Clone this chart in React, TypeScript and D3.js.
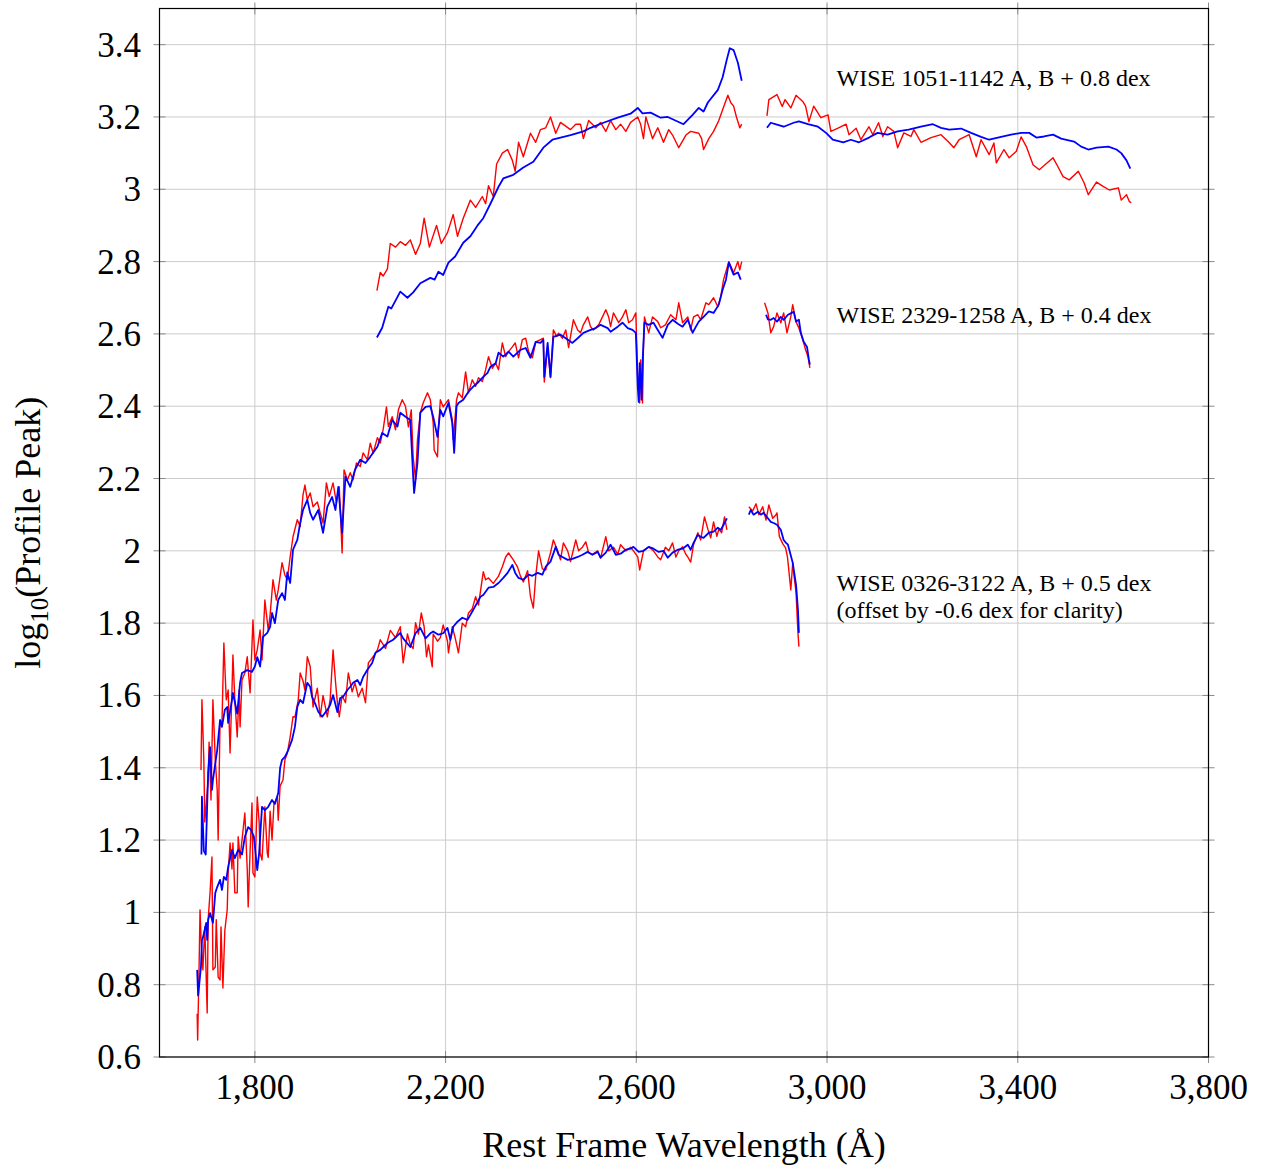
import * as d3 from 'd3';

type Pt = [number, number];

// WISE 1051-1142 A (red) / B (blue), shifted by +0.8 dex
const w1051RedBlue1: Pt[] = [
  [2056, 2.72], [2063, 2.77], [2069, 2.76], [2078, 2.78], [2084, 2.85], [2095, 2.84], [2105, 2.855], [2116, 2.845],
  [2126, 2.86], [2137, 2.82], [2147, 2.85], [2155, 2.92], [2166, 2.84], [2181, 2.9], [2191, 2.85], [2204, 2.88],
  [2216, 2.93], [2225, 2.87], [2237, 2.92], [2252, 2.97], [2263, 2.95], [2277, 2.98], [2284, 2.96], [2290, 3.01],
  [2300, 2.98], [2307, 3.07], [2319, 3.1], [2330, 3.11], [2340, 3.08], [2346, 3.05], [2353, 3.13], [2363, 3.09],
  [2378, 3.155], [2389, 3.13], [2399, 3.165], [2410, 3.17], [2420, 3.2], [2431, 3.155], [2441, 3.185], [2462, 3.165],
  [2473, 3.18], [2483, 3.18], [2489, 3.14], [2500, 3.19], [2515, 3.17], [2525, 3.185], [2536, 3.16], [2546, 3.19],
  [2557, 3.165], [2567, 3.18], [2578, 3.16], [2588, 3.185], [2603, 3.2], [2609, 3.18], [2615, 3.14], [2620, 3.2],
  [2634, 3.14], [2645, 3.17], [2657, 3.13], [2668, 3.165], [2676, 3.15], [2689, 3.115], [2704, 3.15], [2714, 3.16],
  [2731, 3.155], [2737, 3.14], [2741, 3.11], [2752, 3.14], [2762, 3.16], [2773, 3.19], [2781, 3.22], [2792, 3.26],
  [2798, 3.24], [2804, 3.23], [2810, 3.2], [2817, 3.17], [2821, 3.18],
];
const w1051RedBlue2: Pt[] = [
  [2874, 3.203], [2878, 3.248], [2895, 3.262], [2906, 3.229], [2912, 3.248], [2924, 3.225], [2935, 3.26], [2949, 3.243],
  [2955, 3.23], [2962, 3.187], [2972, 3.23], [2987, 3.198], [3002, 3.206], [3008, 3.16], [3023, 3.169], [3040, 3.18],
  [3046, 3.151], [3061, 3.169], [3071, 3.137], [3088, 3.173], [3096, 3.151], [3108, 3.184], [3117, 3.146], [3127, 3.173],
  [3140, 3.16], [3148, 3.115], [3161, 3.156], [3176, 3.146], [3182, 3.165], [3197, 3.13], [3218, 3.143], [3239, 3.151],
  [3254, 3.132], [3266, 3.115], [3277, 3.137], [3298, 3.151], [3313, 3.09], [3323, 3.137], [3340, 3.096], [3350, 3.128],
  [3355, 3.073], [3371, 3.11], [3382, 3.087], [3397, 3.105], [3407, 3.145], [3418, 3.118], [3432, 3.068], [3445, 3.054],
  [3474, 3.087], [3484, 3.063], [3495, 3.035], [3508, 3.026], [3527, 3.05], [3539, 3.018], [3548, 2.985], [3565, 3.02],
  [3579, 3.008], [3592, 2.998], [3611, 3.004], [3617, 2.97], [3628, 2.985], [3634, 2.966], [3638, 2.963],
];
const w1051Blue1: Pt[] = [
  [2056, 2.59], [2067, 2.617], [2080, 2.675], [2086, 2.67], [2105, 2.717], [2120, 2.7], [2132, 2.715], [2147, 2.74],
  [2168, 2.755], [2177, 2.75], [2185, 2.772], [2195, 2.763], [2206, 2.797], [2220, 2.814], [2237, 2.852], [2252, 2.87],
  [2267, 2.9], [2279, 2.92], [2294, 2.96], [2311, 3.007], [2321, 3.03], [2342, 3.04], [2363, 3.06], [2384, 3.076],
  [2405, 3.115], [2424, 3.137], [2441, 3.143], [2462, 3.15], [2489, 3.16], [2504, 3.17], [2531, 3.184], [2561, 3.198],
  [2588, 3.209], [2603, 3.225], [2613, 3.21], [2630, 3.212], [2651, 3.198], [2666, 3.2], [2699, 3.18], [2718, 3.206],
  [2731, 3.225], [2741, 3.215], [2750, 3.24], [2771, 3.275], [2781, 3.31], [2790, 3.36], [2796, 3.39], [2804, 3.385],
  [2813, 3.35], [2821, 3.3],
];
const w1051Blue2: Pt[] = [
  [2874, 3.17], [2882, 3.184], [2895, 3.179], [2909, 3.173], [2930, 3.184], [2941, 3.188], [2960, 3.18], [2981, 3.173],
  [2998, 3.156], [3012, 3.137], [3034, 3.13], [3050, 3.137], [3067, 3.13], [3088, 3.143], [3106, 3.156], [3127, 3.151],
  [3148, 3.16], [3171, 3.165], [3197, 3.173], [3222, 3.18], [3239, 3.17], [3256, 3.165], [3281, 3.168], [3302, 3.156],
  [3323, 3.145], [3340, 3.137], [3365, 3.145], [3386, 3.151], [3407, 3.156], [3424, 3.156], [3439, 3.143], [3455, 3.146],
  [3474, 3.151], [3491, 3.14], [3518, 3.132], [3533, 3.118], [3548, 3.11], [3565, 3.115], [3590, 3.118], [3607, 3.11],
  [3617, 3.1], [3628, 3.08], [3636, 3.057],
];

// WISE 2329-1258 A (red) / B (blue), shifted by +0.4 dex
const w2329Red1: Pt[] = [
  [1687, 1.394], [1689, 1.588], [1693, 1.42], [1695, 1.25], [1702, 1.366], [1704, 1.471], [1708, 1.311], [1712, 1.588],
  [1717, 1.422], [1721, 1.339], [1723, 1.2], [1727, 1.532], [1731, 1.524], [1735, 1.745], [1740, 1.588], [1744, 1.615],
  [1748, 1.441], [1752, 1.615], [1754, 1.712], [1758, 1.588], [1763, 1.485], [1767, 1.615], [1769, 1.513], [1773, 1.643],
  [1779, 1.662], [1784, 1.707], [1790, 1.607], [1796, 1.809], [1800, 1.698], [1805, 1.726], [1811, 1.781], [1815, 1.698],
  [1821, 1.864], [1828, 1.781], [1832, 1.823], [1838, 1.92], [1845, 1.864], [1849, 1.892], [1857, 1.967], [1863, 1.933],
  [1868, 1.92], [1874, 1.983], [1880, 2.039], [1889, 2.086], [1895, 2.067], [1901, 2.155], [1905, 2.182], [1910, 2.141],
  [1916, 2.16], [1922, 2.122], [1931, 2.135], [1937, 2.105], [1943, 2.077], [1950, 2.188], [1956, 2.15], [1964, 2.188],
  [1971, 2.133], [1977, 2.177], [1983, 1.994], [1987, 2.224], [1994, 2.196], [2000, 2.216], [2006, 2.196], [2013, 2.243],
  [2021, 2.233], [2027, 2.271], [2036, 2.252], [2042, 2.298], [2048, 2.27], [2057, 2.313], [2063, 2.298], [2069, 2.335],
  [2076, 2.398], [2080, 2.344], [2088, 2.371], [2095, 2.335], [2101, 2.39], [2109, 2.418], [2116, 2.399], [2122, 2.343],
  [2128, 2.39], [2132, 2.26], [2137, 2.196], [2141, 2.307], [2147, 2.382], [2153, 2.409], [2162, 2.437], [2168, 2.418],
  [2174, 2.354], [2176, 2.279], [2183, 2.26], [2185, 2.335], [2189, 2.418], [2195, 2.398], [2206, 2.418], [2214, 2.362],
  [2216, 2.307], [2223, 2.418], [2227, 2.437], [2235, 2.423], [2242, 2.495], [2248, 2.437], [2256, 2.473], [2263, 2.455],
  [2269, 2.479], [2277, 2.468], [2284, 2.501], [2290, 2.537], [2298, 2.505], [2305, 2.519], [2311, 2.501], [2319, 2.575],
  [2326, 2.537], [2332, 2.551], [2340, 2.564], [2346, 2.575], [2353, 2.534], [2361, 2.584], [2368, 2.588], [2374, 2.551],
  [2382, 2.534], [2389, 2.578], [2399, 2.584], [2405, 2.588], [2407, 2.467], [2414, 2.565], [2420, 2.479], [2426, 2.611],
  [2433, 2.593], [2437, 2.602], [2445, 2.588], [2452, 2.611], [2458, 2.562], [2468, 2.639], [2477, 2.611], [2483, 2.603],
  [2489, 2.625], [2498, 2.647], [2504, 2.62], [2510, 2.611], [2521, 2.625], [2529, 2.647], [2536, 2.667], [2542, 2.647],
  [2546, 2.62], [2552, 2.658], [2563, 2.631], [2571, 2.647], [2578, 2.667], [2584, 2.631], [2592, 2.639], [2599, 2.658],
  [2603, 2.473], [2607, 2.409], [2609, 2.528], [2613, 2.409], [2615, 2.564], [2617, 2.647], [2626, 2.603], [2634, 2.647],
  [2645, 2.634], [2651, 2.617], [2661, 2.625], [2672, 2.653], [2683, 2.639], [2689, 2.686], [2697, 2.631], [2708, 2.647],
  [2714, 2.611], [2720, 2.647], [2729, 2.653], [2735, 2.639], [2746, 2.686], [2752, 2.681], [2762, 2.7], [2771, 2.675],
  [2777, 2.703], [2783, 2.75], [2794, 2.8], [2804, 2.769], [2813, 2.8], [2817, 2.777], [2821, 2.8],
];
const w2329Red2: Pt[] = [
  [2869, 2.686], [2876, 2.658], [2882, 2.603], [2888, 2.62], [2895, 2.658], [2903, 2.631], [2909, 2.658], [2916, 2.603],
  [2924, 2.648], [2928, 2.681], [2935, 2.634], [2941, 2.616], [2949, 2.584], [2955, 2.556], [2960, 2.537], [2964, 2.506],
];
const w2329Blue1: Pt[] = [
  [1688, 1.16], [1689, 1.32], [1693, 1.17], [1697, 1.16], [1702, 1.386], [1706, 1.457], [1710, 1.339], [1712, 1.366],
  [1721, 1.449], [1723, 1.477], [1727, 1.532], [1731, 1.513], [1737, 1.56], [1742, 1.568], [1744, 1.524], [1752, 1.588],
  [1754, 1.607], [1763, 1.55], [1769, 1.635], [1773, 1.662], [1784, 1.67], [1794, 1.665], [1800, 1.68], [1805, 1.706],
  [1811, 1.68], [1817, 1.762], [1826, 1.773], [1832, 1.79], [1836, 1.828], [1842, 1.8], [1849, 1.864], [1857, 1.883],
  [1863, 1.864], [1868, 1.94], [1874, 1.911], [1880, 2.003], [1889, 2.03], [1895, 2.077], [1901, 2.113], [1910, 2.141],
  [1916, 2.105], [1922, 2.086], [1933, 2.113], [1943, 2.05], [1952, 2.122], [1962, 2.149], [1969, 2.113], [1975, 2.177],
  [1983, 2.05], [1990, 2.205], [2000, 2.177], [2010, 2.224], [2021, 2.252], [2032, 2.243], [2042, 2.26], [2057, 2.288],
  [2067, 2.326], [2078, 2.316], [2088, 2.362], [2099, 2.344], [2105, 2.382], [2116, 2.371], [2126, 2.362], [2132, 2.205],
  [2134, 2.16], [2141, 2.243], [2147, 2.382], [2158, 2.398], [2168, 2.4], [2174, 2.371], [2183, 2.315], [2189, 2.39],
  [2195, 2.372], [2206, 2.409], [2214, 2.354], [2218, 2.271], [2223, 2.4], [2227, 2.409], [2237, 2.418], [2248, 2.44],
  [2258, 2.454], [2269, 2.467], [2279, 2.481], [2288, 2.492], [2294, 2.509], [2305, 2.519], [2311, 2.548], [2321, 2.537],
  [2332, 2.551], [2342, 2.537], [2357, 2.556], [2368, 2.561], [2378, 2.534], [2389, 2.578], [2399, 2.575], [2405, 2.584],
  [2407, 2.481], [2414, 2.575], [2420, 2.481], [2426, 2.592], [2441, 2.598], [2452, 2.588], [2466, 2.575], [2477, 2.588],
  [2489, 2.603], [2504, 2.611], [2515, 2.616], [2525, 2.625], [2540, 2.616], [2546, 2.606], [2561, 2.62], [2571, 2.631],
  [2582, 2.616], [2592, 2.611], [2599, 2.603], [2603, 2.454], [2605, 2.412], [2607, 2.519], [2611, 2.418], [2613, 2.52],
  [2617, 2.631], [2626, 2.625], [2636, 2.631], [2645, 2.611], [2655, 2.589], [2666, 2.625], [2676, 2.639], [2687, 2.628],
  [2697, 2.62], [2708, 2.639], [2718, 2.603], [2725, 2.62], [2731, 2.634], [2741, 2.647], [2752, 2.662], [2762, 2.658],
  [2773, 2.681], [2781, 2.722], [2788, 2.75], [2794, 2.797], [2804, 2.764], [2813, 2.77], [2819, 2.75],
];
const w2329Blue2: Pt[] = [
  [2872, 2.653], [2876, 2.64], [2882, 2.639], [2888, 2.644], [2895, 2.634], [2903, 2.647], [2909, 2.639], [2918, 2.653],
  [2930, 2.661], [2935, 2.634], [2941, 2.639], [2945, 2.603], [2951, 2.578], [2958, 2.564], [2962, 2.528], [2964, 2.515],
];

// WISE 0326-3122 A (red) / B (blue), shifted by +0.5 dex and -0.6 dex
const w0326Red1: Pt[] = [
  [1679, 0.72], [1680, 0.647], [1683, 0.849], [1685, 1.007], [1687, 0.93], [1691, 0.841], [1695, 0.96], [1700, 0.722],
  [1702, 0.98], [1706, 1.054], [1710, 1.153], [1712, 0.841], [1717, 0.849], [1719, 0.98], [1723, 0.821], [1727, 0.813],
  [1729, 0.96], [1733, 0.791], [1737, 0.95], [1742, 1.007], [1744, 1.109], [1748, 1.192], [1752, 1.12], [1754, 1.192],
  [1758, 1.054], [1763, 1.054], [1765, 1.209], [1769, 1.15], [1773, 1.2], [1779, 1.275], [1784, 1.12], [1786, 1.015],
  [1790, 1.17], [1794, 1.303], [1796, 1.109], [1800, 1.098], [1805, 1.319], [1809, 1.25], [1811, 1.164], [1815, 1.145],
  [1821, 1.292], [1826, 1.164], [1828, 1.152], [1832, 1.28], [1836, 1.2], [1840, 1.3], [1847, 1.319], [1849, 1.255],
  [1853, 1.35], [1859, 1.366], [1863, 1.422], [1868, 1.44], [1874, 1.485], [1880, 1.541], [1884, 1.54], [1891, 1.588],
  [1895, 1.662], [1901, 1.64], [1905, 1.615], [1910, 1.707], [1916, 1.68], [1922, 1.568], [1931, 1.62], [1937, 1.541],
  [1943, 1.6], [1952, 1.541], [1958, 1.59], [1964, 1.726], [1969, 1.64], [1973, 1.58], [1977, 1.541], [1983, 1.6],
  [1990, 1.58], [1996, 1.662], [2004, 1.61], [2010, 1.635], [2017, 1.596], [2025, 1.62], [2032, 1.58], [2038, 1.69],
  [2048, 1.707], [2057, 1.726], [2063, 1.754], [2074, 1.73], [2084, 1.78], [2095, 1.76], [2105, 1.79], [2111, 1.69],
  [2120, 1.77], [2126, 1.74], [2132, 1.73], [2137, 1.801], [2143, 1.77], [2149, 1.828], [2155, 1.79], [2160, 1.707],
  [2164, 1.74], [2172, 1.679], [2174, 1.77], [2183, 1.75], [2189, 1.76], [2195, 1.795], [2204, 1.75], [2206, 1.718],
  [2214, 1.79], [2220, 1.76], [2227, 1.718], [2235, 1.8], [2242, 1.79], [2248, 1.828], [2256, 1.84], [2263, 1.873],
  [2269, 1.85], [2279, 1.942], [2284, 1.92], [2290, 1.925], [2300, 1.91], [2311, 1.93], [2319, 1.956], [2326, 1.983],
  [2332, 1.994], [2342, 1.975], [2351, 1.955], [2357, 1.93], [2363, 1.914], [2372, 1.945], [2378, 1.873], [2384, 1.842],
  [2389, 1.93], [2395, 2.0], [2403, 1.95], [2410, 1.947], [2420, 1.994], [2426, 2.03], [2435, 2.0], [2441, 1.975],
  [2447, 2.022], [2456, 2.0], [2462, 1.97], [2473, 2.03], [2479, 2.0], [2487, 2.01], [2494, 2.025], [2500, 1.995],
  [2508, 1.99], [2519, 2.0], [2525, 1.98], [2536, 2.039], [2542, 2.0], [2552, 2.01], [2561, 1.99], [2567, 2.017],
  [2578, 2.0], [2588, 2.01], [2594, 2.0], [2603, 1.983], [2607, 1.947], [2615, 2.0], [2626, 2.011], [2636, 2.0],
  [2645, 1.983], [2651, 1.975], [2661, 2.01], [2668, 2.0], [2676, 2.022], [2683, 1.983], [2689, 2.0], [2697, 2.011],
  [2704, 1.99], [2708, 1.983], [2714, 1.969], [2720, 2.017], [2729, 2.05], [2735, 2.03], [2743, 2.094], [2750, 2.06],
  [2756, 2.036], [2762, 2.08], [2769, 2.04], [2773, 2.06], [2779, 2.05], [2785, 2.094], [2790, 2.058],
];
const w0326Red2: Pt[] = [
  [2836, 2.122], [2844, 2.11], [2851, 2.13], [2857, 2.1], [2865, 2.122], [2872, 2.085], [2878, 2.127], [2886, 2.09],
  [2893, 2.1], [2895, 2.105], [2900, 2.04], [2907, 2.02], [2913, 2.008], [2917, 1.983], [2924, 1.892], [2928, 1.967],
  [2930, 1.94], [2935, 1.884], [2939, 1.773], [2941, 1.735],
];
const w0326Blue1: Pt[] = [
  [1679, 0.841], [1681, 0.77], [1687, 0.85], [1689, 0.923], [1691, 0.93], [1698, 0.971], [1700, 0.924], [1702, 0.979],
  [1706, 0.998], [1712, 0.971], [1717, 1.054], [1721, 1.07], [1727, 1.09], [1731, 1.062], [1735, 1.098], [1740, 1.09],
  [1744, 1.126], [1752, 1.173], [1758, 1.15], [1765, 1.173], [1773, 1.16], [1779, 1.209], [1786, 1.236], [1792, 1.228],
  [1798, 1.209], [1805, 1.117], [1809, 1.164], [1815, 1.292], [1821, 1.283], [1828, 1.292], [1836, 1.311], [1842, 1.3],
  [1849, 1.33], [1853, 1.4], [1857, 1.422], [1863, 1.43], [1870, 1.449], [1878, 1.477], [1884, 1.513], [1889, 1.568],
  [1895, 1.588], [1901, 1.579], [1910, 1.635], [1916, 1.624], [1920, 1.596], [1926, 1.579], [1933, 1.555], [1941, 1.541],
  [1952, 1.56], [1958, 1.574], [1964, 1.601], [1973, 1.554], [1979, 1.593], [1985, 1.596], [1994, 1.615], [2000, 1.624],
  [2006, 1.635], [2015, 1.643], [2021, 1.629], [2027, 1.651], [2036, 1.671], [2046, 1.69], [2053, 1.718], [2063, 1.726],
  [2078, 1.745], [2090, 1.754], [2105, 1.773], [2111, 1.758], [2126, 1.734], [2137, 1.772], [2147, 1.787], [2158, 1.758],
  [2168, 1.772], [2174, 1.777], [2185, 1.768], [2195, 1.772], [2204, 1.787], [2210, 1.754], [2216, 1.79], [2225, 1.804],
  [2235, 1.815], [2246, 1.809], [2252, 1.823], [2258, 1.837], [2267, 1.858], [2273, 1.873], [2279, 1.878], [2290, 1.898],
  [2300, 1.9], [2311, 1.911], [2321, 1.925], [2330, 1.939], [2340, 1.961], [2346, 1.939], [2353, 1.925], [2363, 1.92],
  [2374, 1.934], [2382, 1.931], [2393, 1.939], [2403, 1.934], [2410, 1.956], [2420, 1.97], [2431, 2.011], [2437, 1.989],
  [2445, 1.983], [2456, 1.975], [2466, 1.978], [2477, 1.983], [2487, 1.989], [2498, 1.997], [2508, 1.989], [2519, 1.997],
  [2525, 1.981], [2536, 1.995], [2546, 2.017], [2557, 1.989], [2567, 1.992], [2578, 2.003], [2588, 2.006], [2594, 2.011],
  [2605, 1.997], [2615, 2.0], [2626, 2.011], [2636, 2.006], [2647, 1.997], [2657, 2.0], [2666, 1.981], [2676, 1.995],
  [2687, 2.003], [2697, 2.006], [2708, 2.017], [2714, 2.003], [2720, 2.022], [2729, 2.044], [2735, 2.039], [2741, 2.036],
  [2752, 2.05], [2762, 2.053], [2771, 2.064], [2777, 2.058], [2783, 2.072], [2790, 2.09],
];
const w0326Blue2: Pt[] = [
  [2836, 2.1], [2840, 2.113], [2846, 2.1], [2855, 2.108], [2861, 2.1], [2867, 2.105], [2876, 2.09], [2882, 2.08],
  [2888, 2.077], [2895, 2.072], [2903, 2.058], [2909, 2.03], [2914, 2.022], [2918, 2.017], [2928, 1.967], [2935, 1.906],
  [2939, 1.837], [2941, 1.773],
];

const xTickValues = [1800, 2200, 2600, 3000, 3400, 3800];
const yTickValues = [0.6, 0.8, 1, 1.2, 1.4, 1.6, 1.8, 2, 2.2, 2.4, 2.6, 2.8, 3, 3.2, 3.4];

const notes = [
  { lines: ['WISE 1051-1142 A, B + 0.8 dex'], at: [3020, 3.287] as Pt },
  { lines: ['WISE 2329-1258 A, B + 0.4 dex'], at: [3020, 2.63] as Pt },
  { lines: ['WISE 0326-3122 A, B + 0.5 dex', '(offset by -0.6 dex for clarity)'], at: [3020, 1.888] as Pt },
];

const series = [
  { segs: [w0326Red1, w0326Red2], color: '#ff0000', width: 1.4 },
  { segs: [w0326Blue1, w0326Blue2], color: '#0000ff', width: 1.8 },
  { segs: [w2329Red1, w2329Red2], color: '#ff0000', width: 1.4 },
  { segs: [w2329Blue1, w2329Blue2], color: '#0000ff', width: 1.8 },
  { segs: [w1051RedBlue1, w1051RedBlue2], color: '#ff0000', width: 1.4 },
  { segs: [w1051Blue1, w1051Blue2], color: '#0000ff', width: 1.8 },
];

const W = 1263;
const H = 1169;
const left = 159.5;
const right = 1208.5;
const top = 8.5;
const bottom = 1057;
const FONT = "'Liberation Serif', 'DejaVu Serif', serif";

export default function App() {
  const x = d3.scaleLinear().domain([1600, 3800]).range([left, right]);
  const y = d3.scaleLinear().domain([0.6, 3.5]).range([bottom, top]);
  const line = d3.line<Pt>().x(d => x(d[0])).y(d => y(d[1]));
  const fmtX = d3.format(',');
  const fmtY = (v: number) => String(+v.toFixed(1));

  return (
    <svg width={W} height={H} style={{ position: 'absolute', left: 0, top: 0, background: '#fff' }}
      fontFamily={FONT}>
      <rect x={0} y={0} width={W} height={H} fill="#fff" />

      {/* grid */}
      <g stroke="#cccccc" strokeWidth={1}>
        {xTickValues.map(t => (
          <line key={'gx' + t} x1={x(t)} x2={x(t)} y1={top} y2={bottom} />
        ))}
        {yTickValues.map(t => (
          <line key={'gy' + t} x1={left} x2={right} y1={y(t)} y2={y(t)} />
        ))}
      </g>

      {/* spectra */}
      <g fill="none" strokeLinejoin="round">
        {series.map((s, i) =>
          s.segs.map((seg, j) => (
            <path key={i + '-' + j} d={line(seg) ?? ''} stroke={s.color} strokeWidth={s.width} />
          ))
        )}
      </g>

      {/* ticks on all sides */}
      <g stroke="#8a8a8a" strokeWidth={1}>
        {xTickValues.map(t => (
          <g key={'tx' + t}>
            <line x1={x(t)} x2={x(t)} y1={bottom - 6} y2={bottom + 6} />
            <line x1={x(t)} x2={x(t)} y1={top - 6} y2={top + 6} />
          </g>
        ))}
        {yTickValues.map(t => (
          <g key={'ty' + t}>
            <line x1={left - 6} x2={left + 6} y1={y(t)} y2={y(t)} />
            <line x1={right - 6} x2={right + 6} y1={y(t)} y2={y(t)} />
          </g>
        ))}
      </g>

      <rect x={left} y={top} width={right - left} height={bottom - top} fill="none" stroke="#000" strokeWidth={1.2} />

      {/* tick labels */}
      <g fontSize={35} fill="#000">
        {xTickValues.map(t => (
          <text key={'lx' + t} x={x(t)} y={1099} textAnchor="middle">{fmtX(t)}</text>
        ))}
        {yTickValues.map(t => (
          <text key={'ly' + t} x={141} y={y(t) + 12} textAnchor="end">{fmtY(t)}</text>
        ))}
      </g>

      {/* axis titles */}
      <text x={(left + right) / 2} y={1157} textAnchor="middle" fontSize={36}>
        Rest Frame Wavelength (Å)
      </text>
      <text transform={`translate(40, ${(top + bottom) / 2}) rotate(-90)`} textAnchor="middle" fontSize={36}>
        log<tspan fontSize={25} dy={8}>10</tspan><tspan dy={-8}>(Profile Peak)</tspan>
      </text>

      {/* annotations */}
      <g fontSize={24}>
        {notes.map((n, i) => (
          <text key={'n' + i} x={x(n.at[0])} y={y(n.at[1])}>
            {n.lines.map((l, k) => (
              <tspan key={k} x={x(n.at[0])} dy={k === 0 ? 0 : 27}>{l}</tspan>
            ))}
          </text>
        ))}
      </g>
    </svg>
  );
}
